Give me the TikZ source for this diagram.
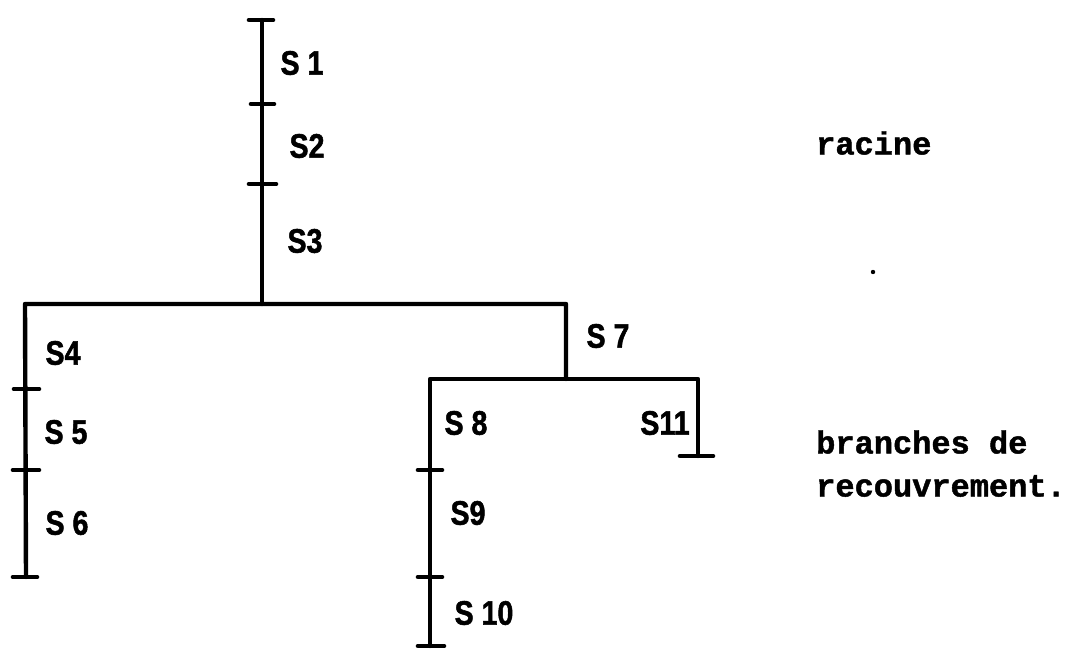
\documentclass[tikz,border=0pt]{standalone}
\usepackage{fontspec}
\newfontfamily\labfont{Liberation Sans}[BoldFeatures={FakeBold=1.6}]
\newfontfamily\typfont{Liberation Mono}[BoldFeatures={FakeBold=1.4}]
\begin{document}
\begin{tikzpicture}[x=1pt,y=-1pt,
  branch/.style={line width=4.4pt,line cap=round,line join=round},
  tick/.style={line width=4.6pt,line cap=round},
  lab/.style={font=\labfont\bfseries\fontsize{34}{36}\selectfont,inner sep=0pt,xscale=0.84},
  note/.style={font=\typfont\bfseries\fontsize{32}{36}\selectfont,inner sep=0pt,anchor=west}]
\useasboundingbox (0,0) rectangle (1079,658);
% coordinates
\coordinate (r0) at (262,20);
\coordinate (r1) at (262,104);
\coordinate (r2) at (262,184);
\coordinate (j1) at (262,304);
\coordinate (hL) at (25,304);
\coordinate (hR) at (566,304);
\coordinate (l1) at (26,389);
\coordinate (l2) at (26,470);
\coordinate (l3) at (26,577);
\coordinate (j2) at (566,379);
\coordinate (h2L) at (430,379);
\coordinate (h2R) at (698,379);
\coordinate (e11) at (698,456);
\coordinate (m1) at (430,470);
\coordinate (m2) at (430,577);
\coordinate (m3) at (430,646);
% lines
\draw[branch] (r0) -- (j1);
\draw[branch] (l3) -- (hL) -- (hR) -- (j2);
\draw[branch] (m3) -- (h2L) -- (h2R) -- (e11);
% ticks
\draw[tick] ([xshift=-13pt]r0) -- ([xshift=11pt]r0);
\draw[tick] ([xshift=-11pt]r1) -- ([xshift=12pt]r1);
\draw[tick] ([xshift=-13pt]r2) -- ([xshift=14pt]r2);
\draw[tick] ([xshift=-12pt]l1) -- ([xshift=13pt]l1);
\draw[tick] ([xshift=-13pt]l2) -- ([xshift=13pt]l2);
\draw[tick] ([xshift=-13pt]l3) -- ([xshift=11pt]l3);
\draw[tick] ([xshift=-18pt]e11) -- ([xshift=15pt]e11);
\draw[tick] ([xshift=-12pt]m1) -- ([xshift=12pt]m1);
\draw[tick] ([xshift=-12pt]m2) -- ([xshift=12pt]m2);
\draw[tick] ([xshift=-12pt]m3) -- ([xshift=14pt]m3);
% labels
\node[lab] (s1) at (302,63) {S 1};
\node[lab] (s2) at (307,146) {S2};
\node[lab] (s3) at (305,241) {S3};
\node[lab] (s4) at (63,353) {S4};
\node[lab] (s5) at (66,432) {S 5};
\node[lab] (s6) at (67,523) {S 6};
\node[lab] (s7) at (608,336) {S 7};
\node[lab] (s8) at (466,423) {S 8};
\node[lab] (s11) at (665,423) {S11};
\node[lab] (s9) at (468,513) {S9};
\node[lab] (s10) at (484,613) {S 10};
\node[note] (racine) at (816,143) {racine};
\node[note] (br1) at (816,442) {branches de};
\node[note] (br2) at (816,486) {recouvrement.};
\fill (873,272) circle (2.2pt);
\end{tikzpicture}
\end{document}
